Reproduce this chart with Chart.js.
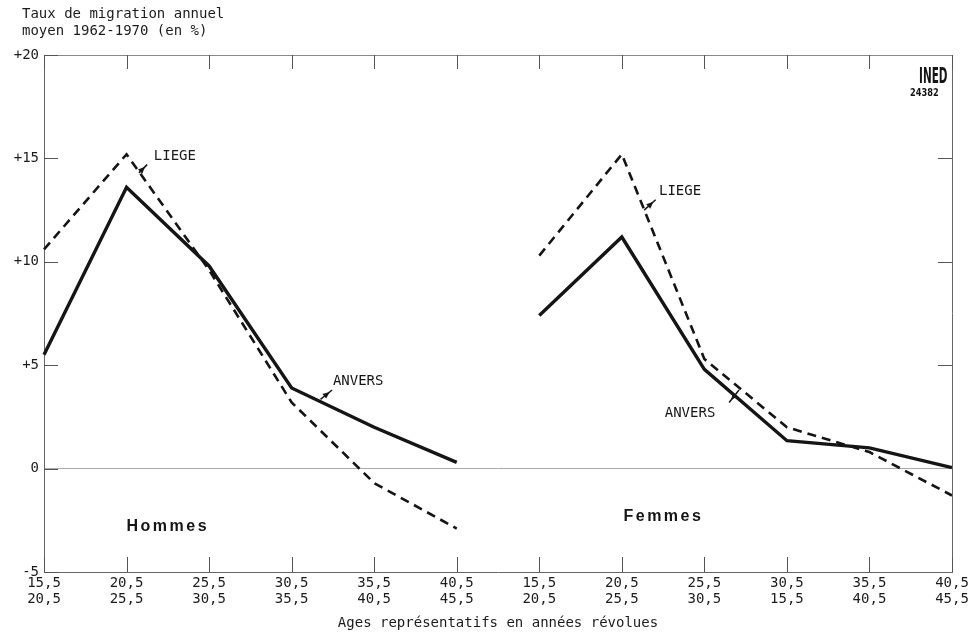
<!DOCTYPE html>
<html>
<head>
<meta charset="utf-8">
<script src="https://cdn.jsdelivr.net/npm/chart.js@4/dist/chart.umd.min.js"></script>
<style>
html,body{margin:0;padding:0;background:#fff;}
canvas{display:block;}
</style>
</head>
<body>
<canvas id="c" width="970" height="633"></canvas>
<script>
// Age groups (two lines each): Hommes then Femmes
const categories = [
  ['15,5','20,5'],['20,5','25,5'],['25,5','30,5'],['30,5','35,5'],['35,5','40,5'],['40,5','45,5'],
  ['15,5','20,5'],['20,5','25,5'],['25,5','30,5'],['30,5','15,5'],['35,5','40,5'],['40,5','45,5']
];
const anversHommes = [5.5, 13.6, 9.8, 3.9, 2.0, 0.3];
const liegeHommes  = [10.6, 15.2, 9.6, 3.2, -0.7, -2.9];
const anversFemmes = [7.4, 11.2, 4.8, 1.35, 1.0, 0.05];
const liegeFemmes  = [10.3, 15.2, 5.3, 2.0, 0.8, -1.3];
const yTicks = [-5, 0, 5, 10, 15, 20];

const nulls = [null, null, null, null, null, null];
const MONO = '"DejaVu Sans Mono", "Liberation Mono", monospace';
const INK = '#151515';
const TXT = '#1c1c1c';

function lineDs(label, data, dashed) {
  return {
    label, data,
    borderColor: INK,
    borderWidth: dashed ? 2.6 : 3.4,
    borderDash: dashed ? [9, 6] : [],
    pointRadius: 0,
    fill: false,
    tension: 0,
    spanGaps: false
  };
}

const extras = {
  id: 'extras',
  afterDraw(chart) {
    const ctx = chart.ctx;
    const a = chart.chartArea;
    const xs = chart.scales.x, ys = chart.scales.y;
    ctx.save();
    // top and right frame
    ctx.strokeStyle = '#888';
    ctx.lineWidth = 1;
    ctx.beginPath();
    ctx.moveTo(a.left, a.top + 0.5); ctx.lineTo(a.right, a.top + 0.5);
    ctx.stroke();
    ctx.strokeStyle = '#666';
    ctx.beginPath();
    ctx.moveTo(a.right + 0.5, a.top); ctx.lineTo(a.right + 0.5, a.bottom);
    ctx.stroke();
    // inner ticks on x (top and bottom)
    ctx.strokeStyle = '#555';
    ctx.beginPath();
    for (let i = 0; i < categories.length; i++) {
      const px = Math.round(xs.getPixelForValue(i)) + 0.5;
      ctx.moveTo(px, a.bottom); ctx.lineTo(px, a.bottom - 15);
      ctx.moveTo(px, a.top); ctx.lineTo(px, a.top + 14);
    }
    // inner ticks on y (left and right)
    yTicks.forEach(v => {
      const py = Math.round(ys.getPixelForValue(v)) + 0.5;
      ctx.moveTo(a.left, py); ctx.lineTo(a.left + 14, py);
      if (v > 0 && v < 20) { ctx.moveTo(a.right, py); ctx.lineTo(a.right - 14, py); }
    });
    ctx.stroke();

    // arrows helper
    function arrow(x1, y1, x2, y2) {
      ctx.strokeStyle = INK; ctx.fillStyle = INK; ctx.lineWidth = 1.5;
      ctx.beginPath(); ctx.moveTo(x1, y1); ctx.lineTo(x2, y2); ctx.stroke();
      const ang = Math.atan2(y2 - y1, x2 - x1);
      const L = 7, W = 3;
      const hx = x1 + Math.cos(ang) * 3, hy = y1 + Math.sin(ang) * 3;
      ctx.beginPath();
      ctx.moveTo(hx, hy);
      ctx.lineTo(hx + Math.cos(ang) * L - Math.sin(ang) * W, hy + Math.sin(ang) * L + Math.cos(ang) * W);
      ctx.lineTo(hx + Math.cos(ang) * L + Math.sin(ang) * W, hy + Math.sin(ang) * L - Math.cos(ang) * W);
      ctx.closePath(); ctx.fill();
    }
    const X = i => xs.getPixelForValue(i), Y = v => ys.getPixelForValue(v);

    // series labels
    ctx.fillStyle = TXT;
    ctx.font = '14px ' + MONO;
    ctx.textBaseline = 'middle';
    ctx.textAlign = 'left';
    ctx.fillText('LIEGE', X(1.33), Y(15.1));
    arrow(X(1.25), Y(14.7), X(1.15), Y(14.3));
    ctx.fillText('LIEGE', X(7.45), Y(13.4));
    arrow(X(7.41), Y(13.0), X(7.27), Y(12.5));
    ctx.fillText('ANVERS', X(3.5), Y(4.2));
    arrow(X(3.49), Y(3.8), X(3.35), Y(3.35));
    ctx.fillText('ANVERS', X(7.52), Y(2.65));
    arrow(X(8.3), Y(3.2), X(8.42), Y(3.8));

    // group labels
    ctx.font = '600 16px "Liberation Sans", Arial, sans-serif';
    ctx.letterSpacing = '2.5px';
    ctx.fillText('Hommes', X(1), Y(-2.8));
    ctx.fillText('Femmes', X(7.02), Y(-2.3));
    ctx.letterSpacing = '0px';

    // INED logo
    ctx.save();
    ctx.translate(919, 77);
    ctx.scale(0.55, 1.15);
    ctx.font = 'bold 19px "DejaVu Sans", sans-serif';
    ctx.fillText('INED', 0, 0);
    ctx.restore();
    ctx.save();
    ctx.translate(910, 93);
    ctx.scale(0.75, 1);
    ctx.font = 'bold 11px "DejaVu Sans", sans-serif';
    ctx.fillText('24382', 0, 0);
    ctx.restore();

    // titles
    ctx.font = '14px ' + MONO;
    ctx.fillStyle = TXT;
    ctx.fillText('Taux de migration annuel', 22, 14);
    ctx.fillText('moyen 1962-1970 (en %)', 22, 31);
    ctx.textAlign = 'center';
    ctx.fillText('Ages représentatifs en années révolues', (a.left + a.right) / 2, 623);
    ctx.restore();
  }
};

new Chart(document.getElementById('c'), {
  type: 'line',
  data: {
    labels: categories,
    datasets: [
      lineDs('ANVERS Hommes', anversHommes.concat(nulls), false),
      lineDs('LIEGE Hommes', liegeHommes.concat(nulls), true),
      lineDs('ANVERS Femmes', nulls.concat(anversFemmes), false),
      lineDs('LIEGE Femmes', nulls.concat(liegeFemmes), true)
    ]
  },
  options: {
    responsive: false,
    devicePixelRatio: 1,
    animation: false,
    layout: { padding: { top: 55, right: 18, left: 0, bottom: 0 } },
    plugins: { legend: { display: false }, tooltip: { enabled: false } },
    scales: {
      x: {
        type: 'category',
        offset: false,
        grid: { display: false, drawTicks: false },
        border: { display: true, color: '#666', width: 1 },
        ticks: {
          autoSkip: false, maxRotation: 0, minRotation: 0, padding: 4,
          color: TXT, font: { family: MONO, size: 14, lineHeight: 1.1 }
        },
        afterFit: s => { s.height = 61; s.paddingLeft = 0; s.paddingRight = 0; }
      },
      y: {
        min: -5, max: 20,
        afterBuildTicks: s => { s.ticks = yTicks.map(v => ({ value: v })); },
        grid: {
          drawTicks: false,
          color: c => (c.tick && c.tick.value === 0) ? '#aaa' : 'rgba(0,0,0,0)',
          lineWidth: 1
        },
        border: { display: true, color: '#666', width: 1 },
        ticks: {
          padding: 5, color: TXT,
          font: { family: MONO, size: 14 },
          callback: v => v > 0 ? '+' + v : String(v)
        },
        afterFit: s => { s.width = 44; s.paddingTop = 0; s.paddingBottom = 0; }
      }
    }
  },
  plugins: [extras]
});
</script>
</body>
</html>
